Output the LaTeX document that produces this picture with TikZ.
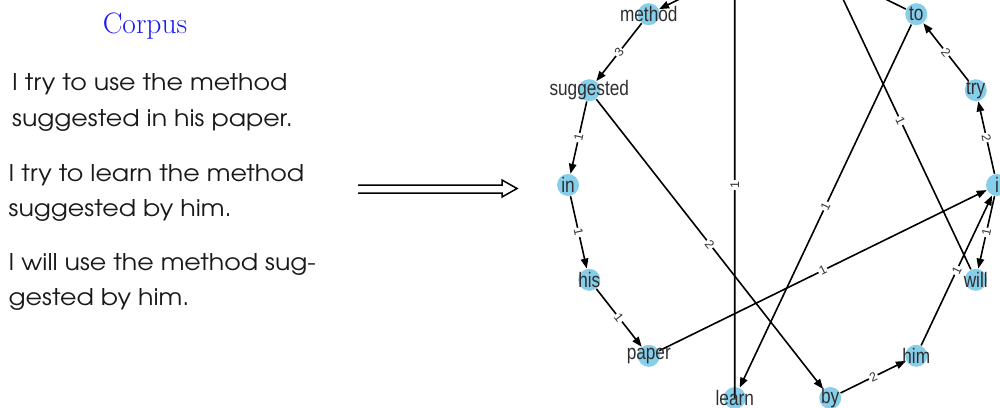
\documentclass[tikz,border=0pt]{standalone}
\usepackage{fontspec}
\usepackage{graphicx}
\newfontfamily\advfont{TeX Gyre Adventor}
\newfontfamily\lbfont{Liberation Sans}
\usetikzlibrary{arrows.meta}
\definecolor{skyb}{HTML}{87CEEB}
\definecolor{corpusblue}{HTML}{1A1AF5}
\newcommand{\wide}[1]{\scalebox{1.1}[1]{#1}}
\begin{document}
\begin{tikzpicture}[x=1pt,y=-1pt,
  vtx/.style={circle, fill=skyb, minimum size=22pt, inner sep=0pt, outer sep=0.5pt},
  vlbl/.style={font=\lbfont\fontsize{21}{21}\selectfont, text=black!82, inner sep=0pt},
  edge/.style={line width=1.6pt, draw=black, -{Triangle[length=10pt,width=7.5pt]}},
  wlbl/.style={font=\lbfont\fontsize{12.5}{12.5}\selectfont, text=black!80, fill=white, inner sep=1.2pt, sloped, midway},
  body/.style={font=\advfont\fontsize{23}{36}\selectfont, anchor=base west, inner sep=0pt, text=black!90},
]
\useasboundingbox (0,0) rectangle (1000,407);

% left: corpus
\node[font=\fontsize{29.5}{29.5}\selectfont, text=corpusblue, anchor=base, inner sep=0pt] (corpus) at (145,33) {Corpus};
\node[body] (l1) at (12,90) {\wide{I try to use the method}};
\node[body] (l2) at (12,126) {\wide{suggested in his paper.}};
\node[body] (l3) at (8.5,181) {\wide{I try to learn the method}};
\node[body] (l4) at (8.5,216.5) {\wide{suggested by him.}};
\node[body] (l5) at (8.5,270) {\wide{I will use the method sug-}};
\node[body] (l6) at (8.5,305.5) {\wide{gested by him.}};

% big double arrow
\draw[line width=1.5pt, line join=miter] (358,185) -- (502,185) -- (502,180) -- (517,188.5) -- (502,197) -- (502,193) -- (358,193);

% graph
\begin{scope}
\clip (0,0) rectangle (1000,407);
\foreach \n/\k in {i/0,try/1,to/2,method/5,suggested/6,in/7,his/8,paper/9,learn/10,by/11,him/12,will/13}
  \node[vtx] (v\n) at ({782.5+214.5*cos(\k*360/14)},{185-218.5*sin(\k*360/14)}) {};
\coordinate (vuse) at ({782.5+214.5*cos(3*360/14)},{185-218.5*sin(3*360/14)});
\coordinate (vthe) at ({782.5+214.5*cos(4*360/14)},{185-218.5*sin(4*360/14)});

\draw[edge] (vi) -- node[wlbl]{2} (vtry);
\draw[edge] (vtry) -- node[wlbl]{2} (vto);
\draw[edge, shorten >=11.5pt] (vto) -- (vuse);
\draw[edge] (vto) -- node[wlbl]{1} (vlearn);
\draw[edge, shorten <=11.5pt, shorten >=11.5pt] (vuse) -- (vthe);
\draw[edge, shorten >=11.5pt] (vlearn.center) -- node[wlbl]{1} (vthe);
\draw[edge, shorten <=11.5pt] (vthe) -- (vmethod);
\draw[edge] (vmethod) -- node[wlbl]{3} (vsuggested);
\draw[edge] (vsuggested) -- node[wlbl]{1} (vin);
\draw[edge] (vin) -- node[wlbl]{1} (vhis);
\draw[edge] (vhis) -- node[wlbl]{1} (vpaper);
\draw[edge] (vpaper) -- node[wlbl]{1} (vi);
\draw[edge] (vsuggested) -- node[wlbl]{2} (vby);
\draw[edge] (vby) -- node[wlbl]{2} (vhim);
\draw[edge] (vhim) -- node[wlbl]{1} (vi);
\draw[edge] (vi) -- node[wlbl]{1} (vwill);
\draw[edge, shorten >=11.5pt] (vwill) -- node[wlbl]{1} (vuse);

\foreach \n in {i,try,to,method,suggested,in,his,paper,learn,by,him,will}
  \node[vlbl] (t\n) at (v\n) {\scalebox{0.82}[1]{\n}};
\end{scope}
\end{tikzpicture}
\end{document}
